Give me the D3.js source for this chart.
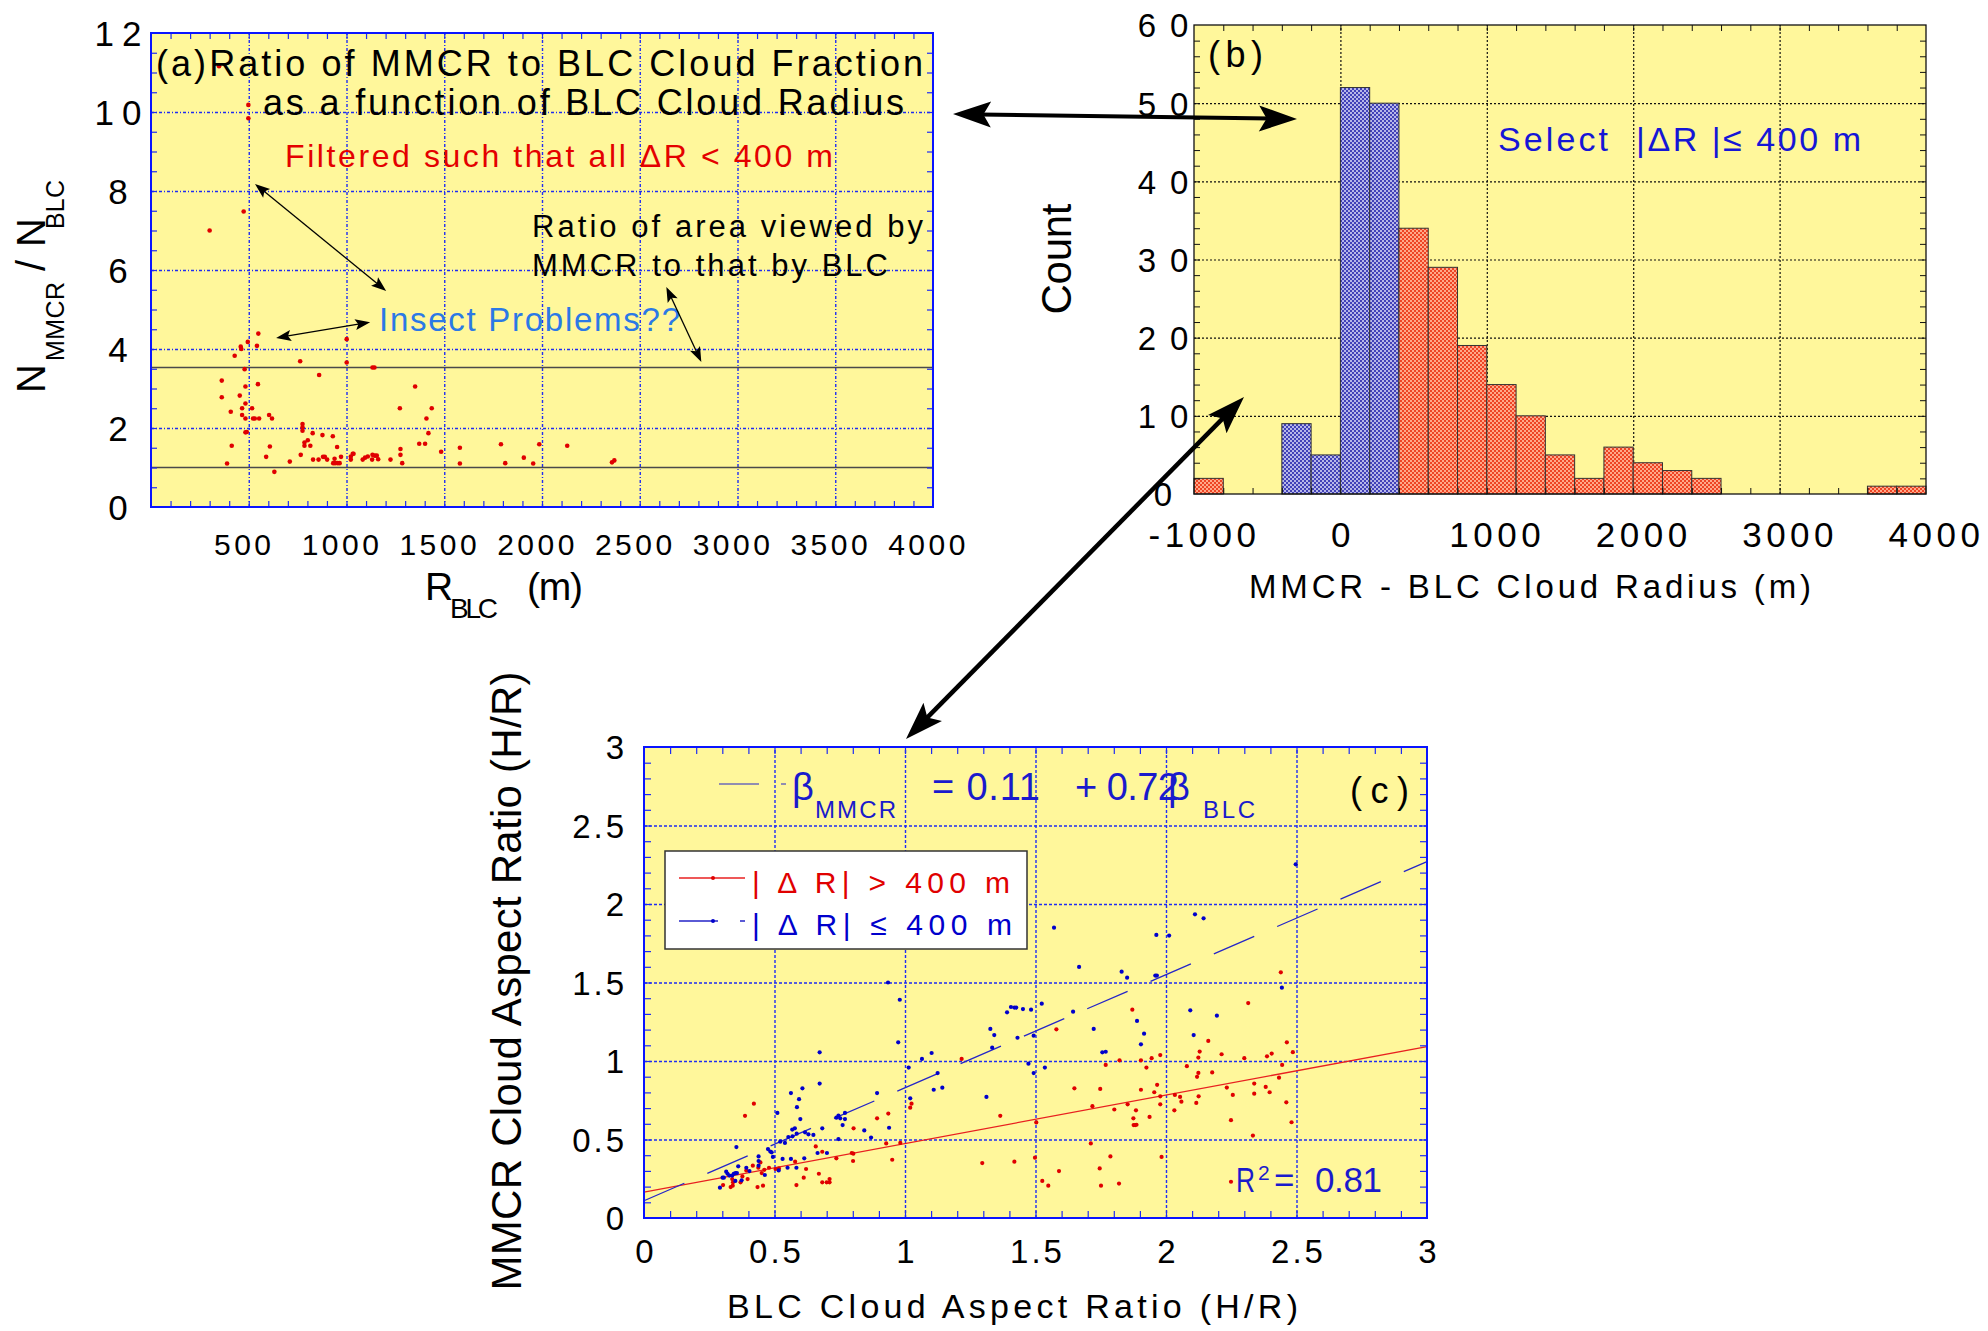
<!DOCTYPE html>
<html>
<head>
<meta charset="utf-8">
<script src="https://cdn.jsdelivr.net/npm/d3@7"></script>
<style>
  html, body { margin: 0; padding: 0; background: #ffffff; }
  svg { display: block; font-family: "Liberation Sans", Arial, Helvetica, sans-serif; }
</style>
</head>
<body>
<svg id="fig" width="1988" height="1331"></svg>
<script>
// ---------------- (a) ratio of MMCR to BLC cloud counts vs BLC radius ----------------
const radiusBLC = [348, 498, 498, 474, 300,
  362, 362, 389, 408, 413, 428, 454, 459, 462, 466, 466, 479, 483, 483, 483, 483, 490, 495,
  517, 522, 531, 542, 549, 547, 553, 589, 604, 608, 619, 631, 710, 763, 766, 775, 775, 775,
  785, 785, 802, 815, 827, 829, 857, 860, 877, 880, 889, 901, 930, 932, 939, 942, 952, 955,
  965, 972, 1001, 1001, 1022, 1022, 1032, 1036, 1083, 1095, 1109, 1131, 1133, 1143, 1133,
  1145, 1155, 1162, 1225, 1273, 1276, 1276, 1285, 1351, 1372, 1402, 1409, 1419, 1436, 1484,
  1580, 1580, 1790, 1812, 1907, 1955, 1986, 2129, 2358, 2370];
const countRatio = [11.16, 10.18, 9.84, 7.48, 7.0,
  3.20, 2.78, 1.10, 2.41, 1.55, 3.83, 2.82, 4.06, 4.00, 2.50, 2.33, 3.49, 3.05, 2.62, 2.24, 1.89, 1.90, 4.18,
  2.50, 2.24, 2.24, 4.08, 4.39, 3.11, 2.24, 1.27, 2.33, 1.53, 2.24, 0.89, 1.15, 3.69, 1.32, 1.93, 2.02, 2.10,
  1.55, 1.63, 1.69, 1.55, 1.87, 1.20, 1.20, 3.34, 1.82, 1.27, 1.27, 1.20, 1.79, 1.11, 1.22, 1.11, 1.52, 1.11,
  1.11, 1.27, 4.25, 3.66, 1.20, 1.28, 1.35, 1.35, 1.20, 1.25, 1.28, 1.20, 3.53, 3.53, 1.32,
  1.30, 1.30, 1.21, 1.20, 2.50, 1.47, 1.32, 1.11, 3.05, 1.60, 1.60, 2.24, 1.87, 2.50, 1.40,
  1.50, 1.10, 1.59, 1.11, 1.25, 1.10, 1.59, 1.55, 1.13, 1.18];
const areaRatioLevels = [3.53, 1.0];
const gridA_X = [500, 1000, 1500, 2000, 2500, 3000, 3500];
const gridA_Y = [2, 4, 6, 8, 10];
const labelA_X = [500, 1000, 1500, 2000, 2500, 3000, 3500, 4000];
const labelA_Y = [0, 2, 4, 6, 8, 10, 12];

// ---------------- (b) histogram of MMCR - BLC cloud radius ----------------
const binStart = [-1000, -800, -600, -400, -200, 0, 200, 400, 600, 800, 1000, 1200, 1400, 1600,
  1800, 2000, 2200, 2400, 2600, 2800, 3000, 3200, 3400, 3600, 3800];
const binCount = [2, 0, 0, 9, 5, 52, 50, 34, 29, 19, 14, 10, 5, 2, 6, 4, 3, 2, 0, 0, 0, 0, 0, 1, 1];
const binWidth = 200;
const selectLimit = 400;
const gridB_X = [0, 1000, 2000, 3000];
const gridB_Y = [10, 20, 30, 40, 50];
const labelB_X = [-1000, 0, 1000, 2000, 3000, 4000];
const labelB_Y = [0, 10, 20, 30, 40, 50, 60];

// ---------------- (c) MMCR vs BLC cloud aspect ratio ----------------
const nearPoints = [ // |ΔR| <= 400 m
  [0.291,0.193],[0.301,0.257],[0.306,0.257],[0.315,0.295],[0.320,0.282],[0.327,0.270],[0.338,0.270],
  [0.344,0.282],[0.350,0.286],[0.356,0.286],[0.350,0.236],[0.361,0.329],[0.354,0.452],[0.374,0.240],
  [0.392,0.320],[0.404,0.299],[0.439,0.392],[0.439,0.363],[0.439,0.333],[0.463,0.274],[0.475,0.439],
  [0.484,0.423],[0.489,0.418],[0.494,0.389],[0.511,0.669],[0.516,0.303],[0.522,0.486],[0.531,0.376],
  [0.540,0.478],[0.550,0.320],[0.553,0.516],[0.563,0.376],[0.563,0.796],[0.568,0.563],[0.569,0.520],
  [0.578,0.571],[0.584,0.320],[0.585,0.537],[0.586,0.706],[0.594,0.757],[0.599,0.630],[0.607,0.826],
  [0.614,0.380],[0.617,0.546],[0.630,0.533],[0.649,0.529],[0.665,0.414],[0.673,1.055],[0.673,0.856],
  [0.683,0.571],[0.701,0.414],[0.737,0.639],[0.745,0.652],[0.745,0.503],[0.752,0.635],[0.761,0.592],
  [0.770,0.669],[0.770,0.630],[0.844,0.558],[0.870,0.512],[0.893,0.796],[0.935,1.500],[0.939,0.575],
  [0.974,1.119],[0.980,1.390],[1.014,0.958],[1.020,0.762],[1.065,1.013],[1.102,1.051],[1.110,0.817],
  [1.125,0.923],[1.143,0.830],[1.312,0.771],[1.327,1.204],[1.334,1.085],[1.342,1.165],[1.391,1.310],
  [1.406,1.344],[1.419,1.340],[1.426,1.340],[1.452,1.331],[1.483,1.327],[1.431,1.148],[1.473,0.983],
  [1.493,1.161],[1.493,0.923],[1.524,1.365],[1.536,0.958],[1.571,1.849],[1.644,1.314],[1.667,1.599],
  [1.723,1.204],[1.756,1.055],[1.769,1.059],[1.830,1.569],[1.851,1.531],[1.889,1.255],[1.916,1.174],
  [1.904,1.106],[1.963,1.803],[2.012,1.799],[1.959,1.544],[1.965,1.544],[2.093,1.323],[2.106,1.165],
  [2.111,1.934],[2.144,1.909],[2.195,1.289],[2.444,1.467],[2.497,2.253]];
const farPoints = [ // |ΔR| > 400 m
  [0.303,0.210],[0.332,0.197],[0.340,0.206],[0.341,0.227],[0.338,0.248],[0.370,0.227],[0.377,0.265],
  [0.387,0.651],[0.392,0.303],[0.397,0.248],[0.417,0.333],[0.421,0.728],[0.435,0.197],[0.438,0.320],
  [0.446,0.354],[0.451,0.286],[0.456,0.206],[0.461,0.307],[0.479,0.320],[0.504,0.312],[0.517,0.316],
  [0.579,0.359],[0.584,0.210],[0.612,0.257],[0.621,0.312],[0.658,0.456],[0.670,0.282],[0.683,0.422],
  [0.683,0.227],[0.700,0.227],[0.711,0.248],[0.711,0.227],[0.737,0.380],[0.796,0.414],[0.802,0.410],
  [0.801,0.363],[0.803,0.571],[0.893,0.635],[0.928,0.475],[0.936,0.665],[0.951,0.371],[0.982,0.478],
  [1.020,0.703],[1.025,0.728],[1.217,1.013],[1.296,0.350],[1.365,0.651],[1.419,0.359],[1.503,0.609],
  [1.498,0.384],[1.526,0.236],[1.549,0.206],[1.580,1.202],[1.590,0.299],[1.649,0.826],[1.712,0.475],
  [1.718,0.712],[1.746,0.316],[1.748,0.822],[1.751,0.206],[1.769,0.975],[1.787,0.392],[1.802,0.691],
  [1.820,0.219],[1.822,1.004],[1.853,0.724],[1.871,1.327],[1.875,0.635],[1.876,0.592],[1.882,0.592],
  [1.887,0.594],[1.885,0.686],[1.904,0.817],[1.904,1.004],[1.925,0.958],[1.937,0.644],[1.945,1.018],
  [1.955,0.801],[1.966,0.848],[1.978,1.038],[1.978,0.775],[1.978,0.724],[1.983,0.389],[2.032,0.686],
  [2.034,0.784],[2.054,0.771],[2.059,0.741],[2.080,0.967],[2.116,0.733],[2.119,0.899],[2.124,0.924],
  [2.124,1.022],[2.125,0.775],[2.129,1.060],[2.162,1.128],[2.177,0.927],[2.213,1.043],[2.233,0.831],
  [2.249,0.623],[2.256,0.784],[2.249,0.231],[2.300,1.018],[2.315,1.369],[2.338,0.856],[2.338,0.792],
  [2.333,0.525],[2.382,0.835],[2.387,1.030],[2.397,0.801],[2.405,1.047],[2.433,0.894],[2.440,1.565],
  [2.445,0.975],[2.463,1.119],[2.461,0.737],[2.481,0.610],[2.486,1.056]];
const fitNear = { intercept: 0.11, slope: 0.72 };
const fitFar = { intercept: 0.165, slope: 0.309 };
const rSquared = 0.81;
const gridC = [0.5, 1, 1.5, 2, 2.5];
const labelC = [0, 0.5, 1, 1.5, 2, 2.5, 3];

// ---------------- styling ----------------
const PAPER = "#fff79b";
const GRIDBLUE = "#1f2cf2";
const RED = "#e00000";
const BLUE = "#0000cc";

const svg = d3.select("#fig");
const defs = svg.append("defs");

function checker(id, base, ink) {
  const p = defs.append("pattern").attr("id", id).attr("patternUnits", "userSpaceOnUse")
    .attr("width", 4).attr("height", 4);
  p.append("rect").attr("width", 4).attr("height", 4).attr("fill", base);
  p.append("rect").attr("width", 2).attr("height", 2).attr("fill", ink);
  p.append("rect").attr("x", 2).attr("y", 2).attr("width", 2).attr("height", 2).attr("fill", ink);
}
checker("hatchBlue", "#b7b7e8", "#4242b8");
checker("hatchRed", "#ffa889", "#ee4424");

const AXES = { bottom: d3.axisBottom, top: d3.axisTop, left: d3.axisLeft, right: d3.axisRight };

// inward tick marks / grid lines along one side of a frame
function tickSet(g, scale, side, pos, values, len, color, width, dash) {
  const ax = AXES[side](scale).tickValues(values).tickSize(-len).tickFormat("");
  const horiz = side === "bottom" || side === "top";
  const s = g.append("g").attr("transform", horiz ? `translate(0,${pos})` : `translate(${pos},0)`).call(ax);
  s.select(".domain").remove();
  s.selectAll("line").attr("stroke", color).attr("stroke-width", width)
    .attr("stroke-dasharray", dash || null);
  return s;
}

// tick labels drawn by an axis generator, restyled afterwards
function labelSet(g, scale, side, pos, values, fmt, style) {
  const ax = AXES[side](scale).tickValues(values).tickSize(0).tickPadding(0).tickFormat(fmt);
  const horiz = side === "bottom" || side === "top";
  const s = g.append("g").attr("transform", horiz ? `translate(0,${pos})` : `translate(${pos},0)`).call(ax)
    .attr("font-family", null).attr("font-size", style.size).attr("fill", "#000");
  s.select(".domain").remove();
  const t = s.selectAll("text").attr("fill", "#000").attr("letter-spacing", style.spacing)
    .attr("text-anchor", style.anchor);
  if (horiz) t.attr("y", style.offset).attr("dy", 0).attr("x", style.shift || 0);
  else t.attr("x", style.offset).attr("dy", "0.36em");
  return s;
}

function txt(g, x, y, s, o) {
  const t = g.append("text").attr("x", x).attr("y", y).text(s)
    .attr("font-size", o.size).attr("fill", o.color || "#000");
  if (o.len) t.attr("textLength", o.len).attr("lengthAdjust", o.adjust || "spacing");
  if (o.anchor) t.attr("text-anchor", o.anchor);
  if (o.transform) t.attr("transform", o.transform);
  return t;
}

function doubleArrow(g, x1, y1, x2, y2, w, hl, hw) {
  const L = Math.hypot(x2 - x1, y2 - y1), ux = (x2 - x1) / L, uy = (y2 - y1) / L;
  const px = -uy, py = ux;
  g.append("line").attr("x1", x1 + ux * hl * 0.7).attr("y1", y1 + uy * hl * 0.7)
    .attr("x2", x2 - ux * hl * 0.7).attr("y2", y2 - uy * hl * 0.7)
    .attr("stroke", "#000").attr("stroke-width", w);
  const head = (tx, ty, dx, dy) => [[tx, ty],
    [tx - dx * hl + px * hw, ty - dy * hl + py * hw],
    [tx - dx * hl * 0.8, ty - dy * hl * 0.8],
    [tx - dx * hl - px * hw, ty - dy * hl - py * hw]];
  [head(x2, y2, ux, uy), head(x1, y1, -ux, -uy)].forEach(pts =>
    g.append("path").attr("d", d3.line()(pts) + "Z").attr("fill", "#000"));
}

// =============================== panel (a) ===============================
const xA = d3.scaleLinear().domain([0, 4000]).range([151, 933]);
const yA = d3.scaleLinear().domain([0, 12]).range([507, 33]);
const gA = svg.append("g");
gA.append("rect").attr("x", xA(0)).attr("y", yA(12)).attr("width", xA(4000) - xA(0))
  .attr("height", yA(0) - yA(12)).attr("fill", PAPER);
tickSet(gA, xA, "bottom", yA(0), gridA_X, yA(0) - yA(12), GRIDBLUE, 1.4, "3,2,1,2");
tickSet(gA, yA, "left", xA(0), gridA_Y, xA(4000) - xA(0), GRIDBLUE, 1.4, "3,2,1,2");

gA.selectAll("line.level").data(areaRatioLevels).join("line").attr("class", "level")
  .attr("x1", xA(0)).attr("x2", xA(4000)).attr("y1", d => yA(d)).attr("y2", d => yA(d))
  .attr("stroke", "#4a4a4a").attr("stroke-width", 1.6);

gA.selectAll("circle").data(radiusBLC.map((r, i) => [r, countRatio[i]])).join("circle")
  .attr("cx", d => xA(d[0])).attr("cy", d => yA(d[1])).attr("r", 2.3).attr("fill", RED);

tickSet(gA, xA, "bottom", yA(0), d3.range(100, 4000, 100), 6, "#1f2cf2", 1.2);
tickSet(gA, xA, "top", yA(12), d3.range(100, 4000, 100), 6, "#1f2cf2", 1.2);
tickSet(gA, yA, "left", xA(0), d3.range(0.5, 12, 0.5), 6, "#1f2cf2", 1.2);
tickSet(gA, yA, "right", xA(4000), d3.range(0.5, 12, 0.5), 6, "#1f2cf2", 1.2);
gA.append("rect").attr("x", xA(0)).attr("y", yA(12)).attr("width", xA(4000) - xA(0))
  .attr("height", yA(0) - yA(12)).attr("fill", "none").attr("stroke", "#0a14ff").attr("stroke-width", 2);

labelSet(gA, xA, "bottom", yA(0), labelA_X, d3.format("d"), { size: 30, spacing: 3.5, anchor: "middle", offset: 48, shift: -5 });
labelSet(gA, yA, "left", xA(0), labelA_Y, d3.format("d"), { size: 35, spacing: 8, anchor: "middle", offset: -29 });

txt(gA, 156, 76, "(a)Ratio of MMCR to BLC Cloud Fraction", { size: 36, len: 767 });
txt(gA, 263, 115, "as a function of BLC Cloud Radius", { size: 36, len: 641 });
txt(gA, 285, 167, "Filtered such that all ΔR < 400 m", { size: 32, len: 548, color: "#e40000" });
txt(gA, 532, 237, "Ratio of area viewed by", { size: 31, len: 391 });
txt(gA, 532, 276, "MMCR to that by BLC", { size: 31, len: 356 });
txt(gA, 379, 331, "Insect Problems??", { size: 33, len: 301, color: "#2b79e6" });

doubleArrow(gA, xA(532), yA(8.18), xA(1203), yA(5.47), 1.3, 15, 5.5);
doubleArrow(gA, xA(640), yA(4.28), xA(1121), yA(4.68), 1.3, 15, 5.5);
doubleArrow(gA, xA(2636), yA(5.57), xA(2815), yA(3.67), 1.3, 15, 5.5);

// axis titles
txt(gA, 425, 600, "R", { size: 39 });
txt(gA, 450, 618, "BLC", { size: 28, len: 48 });
txt(gA, 527, 600, "(m)", { size: 39, len: 56 });
const yt = gA.append("g").attr("transform", "translate(45,393) rotate(-90)");
txt(yt, 0, 0, "N", { size: 40 });
txt(yt, 32, 19, "MMCR", { size: 25, len: 79 });
txt(yt, 122, 0, "/", { size: 40 });
txt(yt, 146, 0, "N", { size: 40 });
txt(yt, 164, 19, "BLC", { size: 25, len: 49 });

// =============================== panel (b) ===============================
const xB = d3.scaleLinear().domain([-1000, 4000]).range([1194, 1926]);
const yB = d3.scaleLinear().domain([0, 60]).range([494, 25]);
const gB = svg.append("g");
gB.append("rect").attr("x", xB(-1000)).attr("y", yB(60)).attr("width", xB(4000) - xB(-1000))
  .attr("height", yB(0) - yB(60)).attr("fill", PAPER);
tickSet(gB, xB, "bottom", yB(0), gridB_X, yB(0) - yB(60), "#111", 1.2, "2,2");
tickSet(gB, yB, "left", xB(-1000), gridB_Y, xB(4000) - xB(-1000), "#111", 1.2, "2,2");

const bins = binStart.map((s, i) => ({ s, n: binCount[i] })).filter(d => d.n > 0);
gB.selectAll("rect.bar").data(bins).join("rect").attr("class", "bar")
  .attr("x", d => xB(d.s)).attr("width", d => xB(d.s + binWidth) - xB(d.s))
  .attr("y", d => yB(d.n)).attr("height", d => yB(0) - yB(d.n))
  .attr("fill", d => (d.s >= -selectLimit && d.s + binWidth <= selectLimit) ? "url(#hatchBlue)" : "url(#hatchRed)")
  .attr("stroke", "#333").attr("stroke-width", 1);

tickSet(gB, xB, "bottom", yB(0), d3.range(-800, 4000, 200), 6, "#111", 1);
tickSet(gB, xB, "top", yB(60), d3.range(-800, 4000, 200), 6, "#111", 1);
tickSet(gB, yB, "left", xB(-1000), d3.range(2, 60, 2), 6, "#111", 1);
tickSet(gB, yB, "right", xB(4000), d3.range(2, 60, 2), 6, "#111", 1);
gB.append("rect").attr("x", xB(-1000)).attr("y", yB(60)).attr("width", xB(4000) - xB(-1000))
  .attr("height", yB(0) - yB(60)).attr("fill", "none").attr("stroke", "#111").attr("stroke-width", 1.3);

const hyphenFormat = d => (d < 0 ? "-" : "") + Math.abs(d);
labelSet(gB, xB, "bottom", yB(0), labelB_X, hyphenFormat, { size: 35, spacing: 4.5, anchor: "middle", offset: 53 })
  .selectAll("text").attr("x", d => d === 0 ? 2 : 10);
labelSet(gB, yB, "left", xB(-1000), labelB_Y, d3.format("d"), { size: 33, spacing: 14, anchor: "middle", offset: -24 });

txt(gB, 1208, 67, "(b)", { size: 36, len: 55 });
txt(gB, 1498, 151, "Select", { size: 34, len: 110, color: "#1616d6" });
txt(gB, 1636, 151, "|ΔR |≤ 400 m", { size: 34, len: 225, color: "#1616d6" });
txt(gB, 1249, 598, "MMCR - BLC Cloud Radius (m)", { size: 33, len: 562 });
txt(gB, 0, 0, "Count", { size: 42, len: 111, anchor: "middle", transform: "translate(1071,259) rotate(-90)" });

// =============================== panel (c) ===============================
const xC = d3.scaleLinear().domain([0, 3]).range([644, 1427]);
const yC = d3.scaleLinear().domain([0, 3]).range([1218, 747]);
const gC = svg.append("g");
gC.append("rect").attr("x", xC(0)).attr("y", yC(3)).attr("width", xC(3) - xC(0))
  .attr("height", yC(0) - yC(3)).attr("fill", PAPER);
tickSet(gC, xC, "bottom", yC(0), gridC, yC(0) - yC(3), GRIDBLUE, 1.4, "3,2");
tickSet(gC, yC, "left", xC(0), gridC, xC(3) - xC(0), GRIDBLUE, 1.4, "3,2");

const fitLine = f => d3.line().x(d => xC(d)).y(d => yC(f.intercept + f.slope * d))([0, 3]);
gC.append("path").attr("d", fitLine(fitFar)).attr("stroke", "#e82020").attr("stroke-width", 1.3).attr("fill", "none");
gC.append("path").attr("d", fitLine(fitNear)).attr("stroke", "#2525c8").attr("stroke-width", 1.3)
  .attr("fill", "none").attr("stroke-dasharray", "44,25");

gC.append("g").selectAll("circle").data(farPoints).join("circle")
  .attr("cx", d => xC(d[0])).attr("cy", d => yC(d[1])).attr("r", 2.1).attr("fill", RED);
gC.append("g").selectAll("circle").data(nearPoints).join("circle")
  .attr("cx", d => xC(d[0])).attr("cy", d => yC(d[1])).attr("r", 2.1).attr("fill", BLUE);

tickSet(gC, xC, "bottom", yC(0), d3.range(0.1, 3, 0.1), 7, GRIDBLUE, 1.2);
tickSet(gC, xC, "top", yC(3), d3.range(0.1, 3, 0.1), 7, GRIDBLUE, 1.2);
tickSet(gC, yC, "left", xC(0), d3.range(0.1, 3, 0.1), 7, GRIDBLUE, 1.2);
tickSet(gC, yC, "right", xC(3), d3.range(0.1, 3, 0.1), 7, GRIDBLUE, 1.2);
gC.append("rect").attr("x", xC(0)).attr("y", yC(3)).attr("width", xC(3) - xC(0))
  .attr("height", yC(0) - yC(3)).attr("fill", "none").attr("stroke", "#0a14ff").attr("stroke-width", 2);

const fmtC = d => Number.isInteger(d) ? d3.format("d")(d) : d3.format(".1f")(d);
labelSet(gC, xC, "bottom", yC(0), labelC, fmtC, { size: 33, spacing: 3, anchor: "middle", offset: 45, shift: 1.5 });
labelSet(gC, yC, "left", xC(0), labelC, fmtC, { size: 33, spacing: 3, anchor: "end", offset: -17 });

// legend
const lg = gC.append("g");
lg.append("rect").attr("x", 665).attr("y", 851).attr("width", 362).attr("height", 98)
  .attr("fill", "#fff").attr("stroke", "#333").attr("stroke-width", 1.5);
lg.append("line").attr("x1", 679).attr("x2", 745).attr("y1", 878).attr("y2", 878).attr("stroke", "#e82020").attr("stroke-width", 1.3);
lg.append("circle").attr("cx", 713).attr("cy", 878).attr("r", 2).attr("fill", RED);
lg.append("line").attr("x1", 679).attr("x2", 745).attr("y1", 921).attr("y2", 921).attr("stroke", "#2525c8")
  .attr("stroke-width", 1.3).attr("stroke-dasharray", "39,22");
lg.append("circle").attr("cx", 713).attr("cy", 921).attr("r", 2).attr("fill", BLUE);
txt(lg, 752, 893, "| Δ R| > 400 m", { size: 30, len: 258, color: RED });
txt(lg, 752, 935, "| Δ R| ≤ 400 m", { size: 30, len: 260, color: BLUE });

// fit equation
const eqColor = "#1a1acc";
gC.append("line").attr("x1", 719).attr("x2", 786).attr("y1", 784).attr("y2", 784).attr("stroke", "#2525c8")
  .attr("stroke-width", 1.2).attr("stroke-dasharray", "40,22");
txt(gC, 792, 800, "β", { size: 38, color: eqColor });
txt(gC, 815, 818, "MMCR", { size: 24, len: 81, color: eqColor });
txt(gC, 932, 800, `= ${fitNear.intercept.toFixed(2)}`, { size: 38, len: 108, color: eqColor });
txt(gC, 1075, 800, `+ ${fitNear.slope.toFixed(2)}`, { size: 38, len: 104, color: eqColor });
txt(gC, 1168, 800, "β", { size: 38, color: eqColor });
txt(gC, 1203, 818, "BLC", { size: 24, len: 52, color: eqColor });
txt(gC, 1350, 803, "(c)", { size: 36, len: 59 });

txt(gC, 1236, 1192, "R", { size: 35, len: 19, adjust: "spacingAndGlyphs", color: eqColor });
txt(gC, 1258, 1180, "2", { size: 21, color: eqColor });
txt(gC, 1274, 1192, "=", { size: 35, color: eqColor });
txt(gC, 1315, 1192, rSquared.toFixed(2), { size: 35, len: 67, color: eqColor });

txt(gC, 727, 1318, "BLC Cloud Aspect Ratio (H/R)", { size: 34, len: 571 });
txt(gC, 0, 0, "MMCR Cloud Aspect Ratio (H/R)", { size: 42, len: 619, anchor: "middle", transform: "translate(521,981) rotate(-90)" });

// =============================== linking arrows ===============================
const gArrows = svg.append("g");
doubleArrow(gArrows, 953, 114, 1297, 119, 4, 38, 13);
doubleArrow(gArrows, 906, 739, 1244, 397, 4.5, 38, 13);
</script>
</body>
</html>
